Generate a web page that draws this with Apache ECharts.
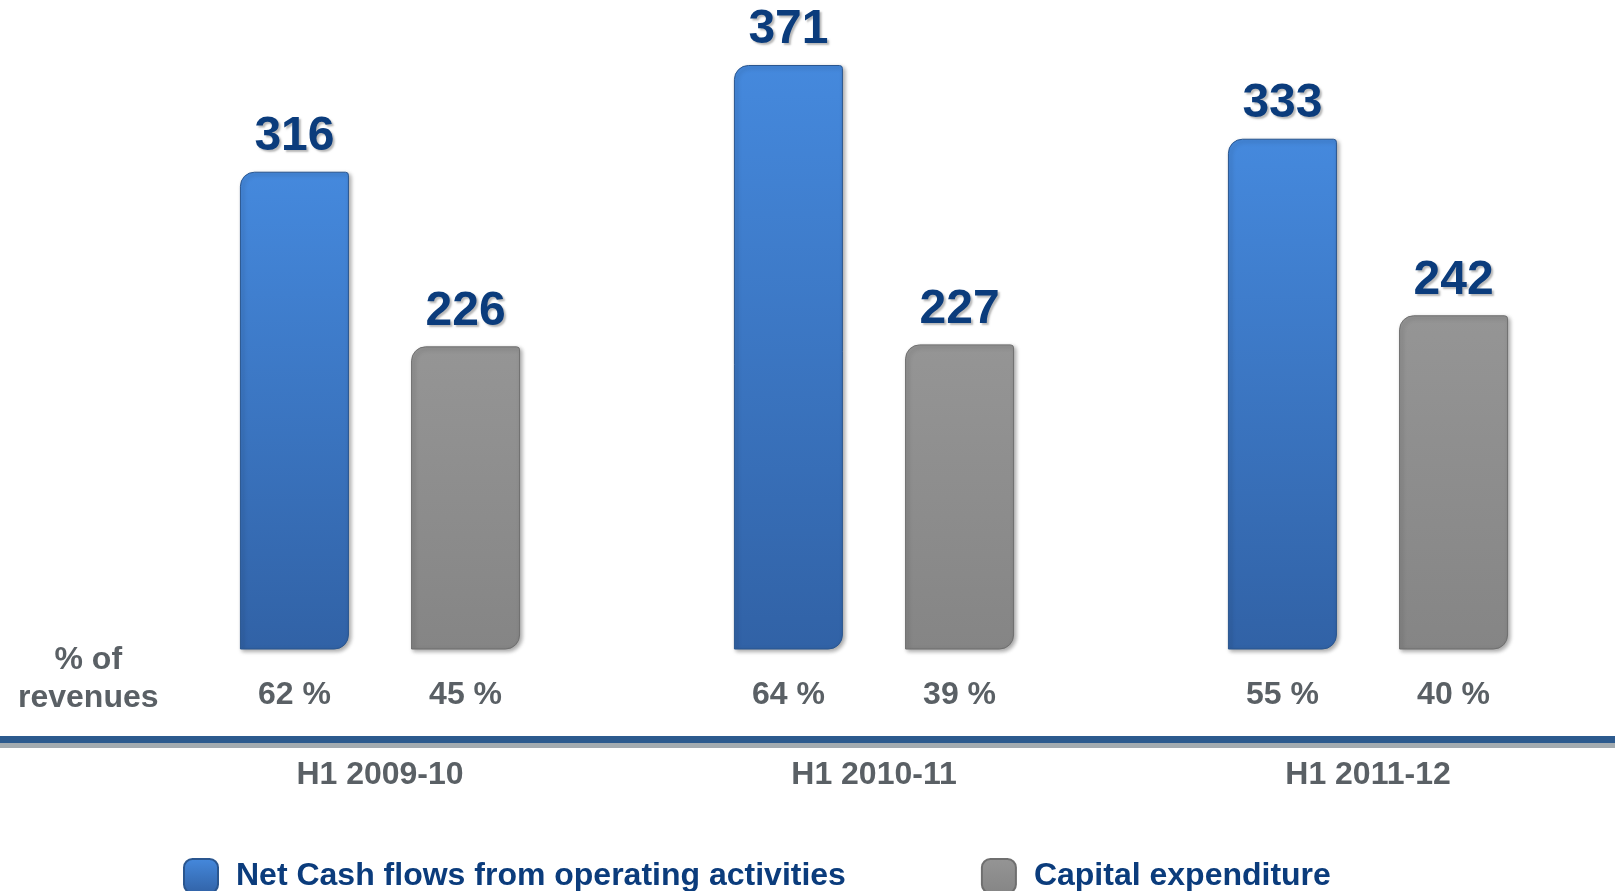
<!DOCTYPE html>
<html>
<head>
<meta charset="utf-8">
<script src="https://cdn.jsdelivr.net/npm/echarts@6/dist/echarts.min.js"></script>
<style>
  html, body { margin: 0; padding: 0; background: #fff; }
  #chart { width: 1615px; height: 891px; }
</style>
</head>
<body>
<div id="chart"></div>
<script>
// values
var periods = ['H1 2009-10', 'H1 2010-11', 'H1 2011-12']
var cashFlow = [316, 371, 333]
var capex = [226, 227, 242]
var cashFlowPct = [62, 64, 55]
var capexPct = [45, 39, 40]

var FONT = 'Arial, "Liberation Sans", sans-serif'
var NAVY = '#0b3c7c'
var GREY_TEXT = '#5a6065'

var blueFill = new echarts.graphic.LinearGradient(0, 0, 0, 1, [
  { offset: 0, color: '#4589dd' },
  { offset: 1, color: '#3162a6' }
])
var greyFill = new echarts.graphic.LinearGradient(0, 0, 0, 1, [
  { offset: 0, color: '#959595' },
  { offset: 1, color: '#858585' }
])

var barStyle = function (fill, edge) {
  return {
    color: fill,
    borderColor: edge,
    borderWidth: 1,
    borderRadius: [14, 3, 14, 0],
    shadowColor: 'rgba(0,0,0,0.35)',
    shadowBlur: 4,
    shadowOffsetX: 2,
    shadowOffsetY: 2
  }
}

var valueLabel = {
  show: true,
  position: 'top',
  distance: 11,
  color: NAVY,
  fontFamily: FONT,
  fontWeight: 'bold',
  fontSize: 48,
  textShadowColor: 'rgba(0,0,0,0.28)',
  textShadowBlur: 2,
  textShadowOffsetX: 2,
  textShadowOffsetY: 2
}

var pctLabel = {
  show: true,
  position: 'bottom',
  distance: 30,
  color: GREY_TEXT,
  fontFamily: FONT,
  fontWeight: 'bold',
  fontSize: 32,
  formatter: '{c} %'
}

var chart = echarts.init(document.getElementById('chart'))
chart.setOption({
  animation: false,
  grid: { left: 133, width: 1491, top: 65, bottom: 242 },
  xAxis: [
    {
      type: 'category',
      data: periods,
      offset: 90,
      axisLine: { show: false },
      axisTick: { show: false },
      axisLabel: {
        margin: 20,
        color: GREY_TEXT,
        fontFamily: FONT,
        fontWeight: 'bold',
        fontSize: 32
      }
    },
    { type: 'category', data: periods, show: false }
  ],
  yAxis: [
    { type: 'value', min: 70, max: Math.max.apply(null, cashFlow), show: false },
    { type: 'value', min: 0, max: 100, show: false }
  ],
  legend: {
    data: ['Net Cash flows from operating activities', 'Capital expenditure'],
    left: 178,
    top: 853,
    itemWidth: 34,
    itemHeight: 34,
    itemGap: 135,
    icon: 'roundRect',
    textStyle: {
      color: NAVY,
      fontFamily: FONT,
      fontWeight: 'bold',
      fontSize: 32,
      padding: [0, 0, 0, 13]
    }
  },
  graphic: [
    { type: 'rect', left: 0, top: 736, shape: { width: 1615, height: 7 }, style: { fill: '#2c5a8e' } },
    { type: 'rect', left: 0, top: 743, shape: { width: 1615, height: 5 }, style: { fill: '#a3abb0' } },
    {
      type: 'text',
      left: 18,
      top: 641,
      style: {
        text: '% of\nrevenues',
        fill: GREY_TEXT,
        font: 'bold 32px ' + FONT,
        lineHeight: 38,
        textAlign: 'center'
      }
    }
  ],
  series: [
    {
      name: 'Net Cash flows from operating activities',
      type: 'bar',
      data: cashFlow,
      barWidth: 109,
      barGap: '57%',
      itemStyle: barStyle(blueFill, '#2a568f'),
      label: valueLabel
    },
    {
      name: 'Capital expenditure',
      type: 'bar',
      data: capex,
      barWidth: 109,
      barGap: '57%',
      itemStyle: barStyle(greyFill, '#6f6f6f'),
      label: valueLabel
    },
    {
      name: 'Net Cash flows % of revenues',
      type: 'bar',
      xAxisIndex: 1,
      yAxisIndex: 1,
      data: cashFlowPct,
      barWidth: 109,
      barGap: '57%',
      itemStyle: { color: 'transparent' },
      label: pctLabel,
      silent: true
    },
    {
      name: 'Capital expenditure % of revenues',
      type: 'bar',
      xAxisIndex: 1,
      yAxisIndex: 1,
      data: capexPct,
      barWidth: 109,
      barGap: '57%',
      itemStyle: { color: 'transparent' },
      label: pctLabel,
      silent: true
    }
  ]
})
</script>
</body>
</html>
